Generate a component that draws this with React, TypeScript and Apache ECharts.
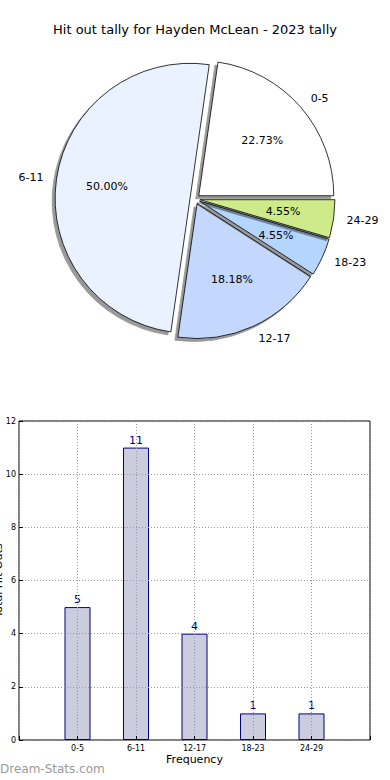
import React, { useEffect, useRef } from "react";
import * as echarts from "echarts";

const categories = ["0-5", "6-11", "12-17", "18-23", "24-29"];
const counts = [5, 11, 4, 1, 1];
const pieColors = ["#ffffff", "#ebf2ff", "#c4d8fe", "#b4d5fe", "#ceeb8a"];
const yMin = 0;
const yMax = 12;
const yInterval = 2;
const titleText = "Hit out tally for Hayden McLean - 2023 tally";
const xName = "Frequency";
const yName = "Total Hit Outs";
const watermark = "Dream-Stats.com";

const FONT = "DejaVu Sans";

export default function App() {
  const ref = useRef<HTMLDivElement>(null);
  useEffect(() => {
    if (!ref.current) return;
    const chart = echarts.init(ref.current, undefined, { renderer: "svg" });
    const total = counts.reduce((a, b) => a + b, 0);
    const pieData = categories.map((c, i) => ({
      name: c,
      value: counts[i],
      selected: true,
      itemStyle: { color: pieColors[i] },
    }));
    const labelData = categories.map((c, i) => ({
      name: c,
      value: counts[i],
      selected: true,
    }));
    const pieCenter = [195, 199];
    const R = 135;
    const gridColor = "#999999";
    chart.setOption({
      animation: false,
      textStyle: { fontFamily: FONT },
      title: {
        text: titleText,
        left: "center",
        top: 18,
        textStyle: { fontFamily: FONT, fontSize: 13, fontWeight: "normal", color: "#000" },
      },
      graphic: [
        {
          type: "text",
          left: 0,
          top: 763,
          style: {
            text: watermark,
            fontFamily: FONT,
            fontSize: 12,
            fontWeight: "normal",
            fill: "#9a9a9a",
          },
        },
      ],
      grid: {
        left: 19,
        top: 421,
        width: 351,
        height: 319,
        outerBoundsMode: "none",
        containLabel: false,
        show: true,
        borderColor: "#000",
        borderWidth: 1,
        backgroundColor: "transparent",
      },
      xAxis: [
        {
          type: "value",
          min: -1,
          max: 5,
          interval: 1,
          z: 5,
          name: xName,
          nameLocation: "middle",
          nameGap: 14,
          nameMoveOverlap: false,
          nameTextStyle: { fontFamily: FONT, fontSize: 11, color: "#000" },
          axisLine: { show: false, onZero: false },
          axisTick: { show: true, inside: true, length: 4, lineStyle: { color: "#000" } },
          axisLabel: {
            fontFamily: FONT,
            fontSize: 8,
            color: "#000",
            margin: 4,
            formatter: (v: number) => (categories[v] !== undefined ? categories[v] : ""),
          },
          splitLine: { show: true, lineStyle: { color: gridColor, type: [1, 2], width: 1 } },
        },
      ],
      yAxis: [
        {
          type: "value",
          min: yMin,
          max: yMax,
          interval: yInterval,
          z: 5,
          name: yName,
          nameLocation: "middle",
          nameGap: 15,
          nameMoveOverlap: false,
          nameTextStyle: { fontFamily: FONT, fontSize: 11, color: "#000" },
          axisLine: { show: false, onZero: false },
          axisTick: { show: true, inside: true, length: 4, lineStyle: { color: "#000" } },
          axisLabel: { fontFamily: FONT, fontSize: 8, color: "#000", margin: 3 },
          splitLine: { show: true, lineStyle: { color: gridColor, type: [1, 2], width: 1 } },
        },
      ],
      series: [
        {
          type: "pie",
          center: pieCenter,
          radius: R,
          startAngle: 0,
          clockwise: false,
          selectedMode: "multiple",
          selectedOffset: 5,
          avoidLabelOverlap: false,
          silent: true,
          emphasis: { disabled: true },
          itemStyle: {
            borderColor: "#000",
            borderWidth: 0.8,
            shadowBlur: 1,
            shadowColor: "rgba(0,0,0,0.4)",
            shadowOffsetX: -3,
            shadowOffsetY: 3,
          },
          label: {
            show: true,
            position: "outside",
            formatter: "{b}",
            fontFamily: FONT,
            fontSize: 11,
            color: "#000",
            distanceToLabelLine: 0,
          },
          labelLine: { show: false, length: 13, length2: 0 },
          data: pieData,
        },
        {
          type: "pie",
          center: pieCenter,
          radius: R * 1.2,
          startAngle: 0,
          clockwise: false,
          selectedMode: "multiple",
          selectedOffset: 5,
          avoidLabelOverlap: false,
          silent: true,
          emphasis: { disabled: true },
          itemStyle: { color: "rgba(0,0,0,0)", borderWidth: 0 },
          label: {
            show: true,
            position: "inside",
            fontFamily: FONT,
            fontSize: 11,
            color: "#000",
            formatter: (p: any) => ((p.value / total) * 100).toFixed(2) + "%",
          },
          labelLine: { show: false },
          data: labelData,
        },
        {
          type: "bar",
          xAxisIndex: 0,
          yAxisIndex: 0,
          barWidth: 26,
          silent: true,
          itemStyle: { color: "#ccccdf", borderColor: "#000080", borderWidth: 1 },
          label: {
            show: true,
            position: "top",
            distance: 2,
            fontFamily: FONT,
            fontSize: 11,
            color: "#00008b",
          },
          data: counts.map((v, i) => [i, v]),
        },
      ],
    });
    return () => chart.dispose();
  }, []);
  return (
    <div
      ref={ref}
      style={{ position: "fixed", left: 0, top: 0, width: 390, height: 780, background: "#fff" }}
    />
  );
}
